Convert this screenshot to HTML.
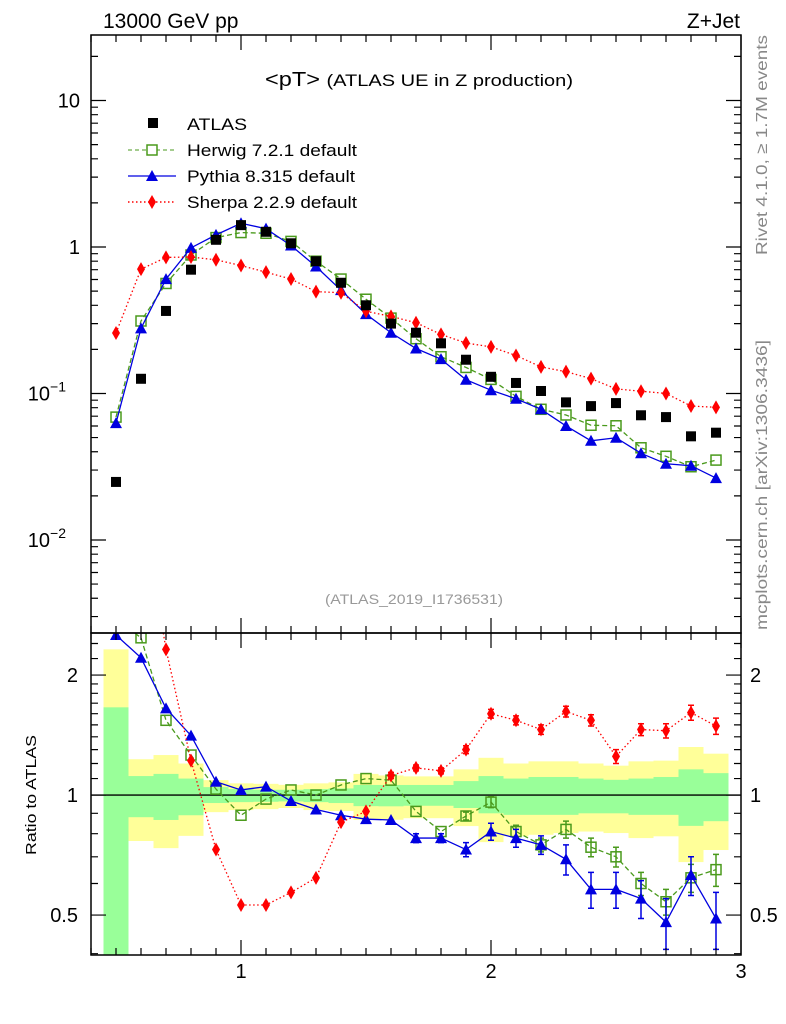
<!DOCTYPE html>
<html><head><meta charset="utf-8"><style>
body{margin:0;background:#fff}
svg{display:block;font-family:"Liberation Sans",Arial,sans-serif}
</style></head><body>
<svg id="plot" width="786" height="1024" viewBox="0 0 786 1024" xmlns="http://www.w3.org/2000/svg">
<text x="103" y="28" font-size="21">13000 GeV pp</text>
<text x="740" y="28" font-size="21" text-anchor="end">Z+Jet</text>
<text x="265" y="86" font-size="20" textLength="308" lengthAdjust="spacingAndGlyphs">&lt;pT&gt; <tspan font-size="17">(ATLAS UE in Z production)</tspan></text>
<text x="414" y="604" font-size="14" fill="#999" text-anchor="middle" textLength="178" lengthAdjust="spacingAndGlyphs">(ATLAS_2019_I1736531)</text>
<text transform="translate(767,255) rotate(-90)" font-size="16" fill="#888" textLength="220" lengthAdjust="spacingAndGlyphs">Rivet 4.1.0, ≥ 1.7M events</text>
<text transform="translate(767,630) rotate(-90)" font-size="16" fill="#888" textLength="290" lengthAdjust="spacingAndGlyphs">mcplots.cern.ch [arXiv:1306.3436]</text>
<text transform="translate(36,795) rotate(-90)" font-size="15" text-anchor="middle" textLength="120" lengthAdjust="spacingAndGlyphs">Ratio to ATLAS</text>
<g id="bands"></g><g id="marks"></g><g id="axes"></g>
<g id="legend">
<rect x="148" y="118" width="10" height="10" fill="#000"/>
<text x="187" y="130" font-size="17" textLength="60" lengthAdjust="spacingAndGlyphs">ATLAS</text>
<line x1="128" y1="150" x2="176" y2="150" stroke="#4a9a1c" stroke-dasharray="4,3"/>
<rect x="147" y="145" width="10" height="10" fill="#fff" stroke="#4a9a1c" stroke-width="1.5"/>
<text x="187" y="156" font-size="17" textLength="170" lengthAdjust="spacingAndGlyphs">Herwig 7.2.1 default</text>
<line x1="128" y1="176" x2="176" y2="176" stroke="#0000e0" stroke-width="1.3"/>
<path d="M152,170 L158,181 L146,181 Z" fill="#0000e0"/>
<text x="187" y="182" font-size="17" textLength="168" lengthAdjust="spacingAndGlyphs">Pythia 8.315 default</text>
<line x1="128" y1="202" x2="176" y2="202" stroke="#f00" stroke-dasharray="1.5,2.5" stroke-width="1.5"/>
<path d="M152,195 L156,202 L152,209 L148,202 Z" fill="#f00"/>
<text x="187" y="208" font-size="17" textLength="170" lengthAdjust="spacingAndGlyphs">Sherpa 2.2.9 default</text>
</g>
</svg>
<script>
const xs=[0.5,0.6,0.7,0.8,0.9,1.0,1.1,1.2,1.3,1.4,1.5,1.6,1.7,1.8,1.9,2.0,2.1,2.2,2.3,2.4,2.5,2.6,2.7,2.8,2.9];
const atlas=[0.0249,0.126,0.366,0.70,1.12,1.41,1.27,1.06,0.80,0.57,0.40,0.30,0.26,0.22,0.17,0.13,0.118,0.104,0.087,0.082,0.086,0.071,0.069,0.051,0.054];
const herwigRatio=[2.77,2.48,1.54,1.26,1.035,0.89,0.977,1.03,1.0,1.06,1.10,1.09,0.91,0.81,0.886,0.96,0.81,0.75,0.82,0.74,0.70,0.60,0.54,0.62,0.65];
const pythiaRatio=[2.52,2.21,1.65,1.41,1.08,1.03,1.05,0.966,0.92,0.89,0.87,0.866,0.78,0.78,0.73,0.81,0.78,0.75,0.69,0.58,0.58,0.55,0.48,0.63,0.49];
const sherpaRatio=[10.4,5.6,2.32,1.22,0.73,0.53,0.53,0.57,0.62,0.855,0.91,1.12,1.17,1.15,1.30,1.60,1.54,1.46,1.62,1.54,1.25,1.46,1.45,1.61,1.49];
const herwigErr=[0.01,0.01,0.01,0.01,0.01,0.01,0.01,0.01,0.01,0.01,0.01,0.01,0.01,0.01,0.02,0.03,0.03,0.03,0.04,0.04,0.04,0.04,0.04,0.05,0.06];
const pythiaErr=[0.01,0.01,0.01,0.01,0.01,0.01,0.01,0.01,0.01,0.01,0.01,0.01,0.02,0.02,0.03,0.04,0.04,0.04,0.06,0.06,0.06,0.06,0.07,0.07,0.08];
const sherpaErr=[0.01,0.01,0.01,0.01,0.01,0.01,0.01,0.01,0.01,0.01,0.01,0.02,0.02,0.02,0.03,0.04,0.04,0.04,0.05,0.05,0.05,0.05,0.06,0.07,0.07];
const yelUp=[2.32,1.23,1.26,1.20,1.09,1.07,1.067,1.061,1.07,1.076,1.13,1.12,1.114,1.114,1.16,1.24,1.20,1.215,1.215,1.20,1.185,1.215,1.22,1.32,1.27];
const grnUp=[1.66,1.116,1.13,1.10,1.047,1.035,1.031,1.031,1.035,1.039,1.06,1.06,1.06,1.06,1.084,1.116,1.10,1.11,1.11,1.10,1.092,1.10,1.11,1.16,1.135];
const grnDn=[0.39,0.88,0.866,0.89,0.955,0.96,0.962,0.964,0.96,0.955,0.938,0.937,0.94,0.94,0.928,0.90,0.892,0.892,0.892,0.90,0.90,0.892,0.892,0.837,0.86];
const yelDn=[0.39,0.767,0.736,0.79,0.906,0.917,0.922,0.928,0.917,0.912,0.866,0.867,0.875,0.875,0.836,0.762,0.788,0.795,0.803,0.81,0.803,0.78,0.788,0.679,0.728];
const xTicks=[1,2,3];
const mainTicks=[10,1,0.1,0.01];
const ratioTicks=[0.5,1,2];

const L=91,R=741,T=35,MB=633,B=955;
const xMin=0.4,xMax=3.0;
const X=v=>L+(v-xMin)/(xMax-xMin)*(R-L);
const yTopLog=Math.log10(28),yBotLog=-2.635;
const Y=v=>T+(yTopLog-Math.log10(v))/(yTopLog-yBotLog)*(MB-T);
const rTop=Math.log10(2.55),rBot=Math.log10(0.397);
const YR=v=>MB+(rTop-Math.log10(v))/(rTop-rBot)*(B-MB);
const NS='http://www.w3.org/2000/svg';
function mk(tag,attrs,parent){const e=document.createElementNS(NS,tag);for(const k in attrs)e.setAttribute(k,attrs[k]);parent.appendChild(e);return e;}
const bands=document.getElementById('bands'),marks=document.getElementById('marks'),axes=document.getElementById('axes');

const defs=mk('defs',{},document.getElementById('plot'));
const cp=mk('clipPath',{id:'rclip'},defs);mk('rect',{x:L,y:MB,width:R-L,height:B-MB},cp);
const cm=mk('clipPath',{id:'mclip'},defs);mk('rect',{x:L,y:T,width:R-L,height:MB-T},cm);
bands.setAttribute('clip-path','url(#rclip)');
xs.forEach((x,i)=>{
  const x0=X(x-0.05),x1=X(x+0.05);
  const y1=mk('rect',{x:x0,y:YR(yelUp[i]),width:x1-x0,height:YR(yelDn[i])-YR(yelUp[i]),fill:'#ffff99'},bands);
  
  
  const g1=mk('rect',{x:x0,y:YR(grnUp[i]),width:x1-x0,height:YR(grnDn[i])-YR(grnUp[i]),fill:'#99ff99'},bands);
  
  
});
const one=mk('line',{x1:L,x2:R,y1:YR(1),y2:YR(1),stroke:'#000','stroke-width':1.3},bands);



const series=[
 {name:'herwig',r:herwigRatio,e:herwigErr,col:'#4a9a1c',dash:'5,3',m:'sq'},
 {name:'pythia',r:pythiaRatio,e:pythiaErr,col:'#0000e0',dash:'',m:'tri'},
 {name:'sherpa',r:sherpaRatio,e:sherpaErr,col:'#f00',dash:'1.5,2.5',m:'dia'}];
function marker(type,cx,cy,col,g){
  if(type==='sq')return mk('rect',{x:cx-5,y:cy-5,width:10,height:10,fill:'none',stroke:col,'stroke-width':1.5},g);
  if(type==='tri')return mk('path',{d:`M${cx},${cy-6}L${cx+6},${cy+5}L${cx-6},${cy+5}Z`,fill:col},g);
  if(type==='dia')return mk('path',{d:`M${cx},${cy-7}L${cx+4},${cy}L${cx},${cy+7}L${cx-4},${cy}Z`,fill:col},g);
  return mk('rect',{x:cx-5,y:cy-5,width:10,height:10,fill:col},g);
}
const gm=mk('g',{'clip-path':'url(#mclip)'},marks);
const gr=mk('g',{'clip-path':'url(#rclip)'},marks);
series.forEach(s=>{
  const mainVals=s.r.map((r,i)=>r*atlas[i]);
  const pl=mk('polyline',{points:xs.map((x,i)=>X(x)+','+Y(mainVals[i])).join(' '),fill:'none',stroke:s.col,'stroke-width':1.3,'stroke-dasharray':s.dash},gm);
  
  
  const pr=mk('polyline',{points:xs.map((x,i)=>X(x)+','+YR(s.r[i])).join(' '),fill:'none',stroke:s.col,'stroke-width':1.3,'stroke-dasharray':s.dash},gr);
  
  
  xs.forEach((x,i)=>{
    const m1=marker(s.m,X(x),Y(mainVals[i]),s.col,gm);
    
    
    const cy=YR(s.r[i]);
    if(s.e[i]>0.015){
      const eb=mk('path',{d:`M${X(x)},${YR(s.r[i]+s.e[i])}V${YR(s.r[i]-s.e[i])}M${X(x)-3},${YR(s.r[i]+s.e[i])}h6M${X(x)-3},${YR(s.r[i]-s.e[i])}h6`,stroke:s.col,'stroke-width':1.5,fill:'none'},gr);
      
      
    }
    const m2=marker(s.m,X(x),cy,s.col,gr);
    
    
  });
});
xs.forEach((x,i)=>{
  const a=marker('fill',X(x),Y(atlas[i]),'#000',gm);
  
  
});

[[T,MB],[MB,B]].forEach(([t,b],k)=>{
  const f=mk('rect',{x:L,y:t,width:R-L,height:b-t,fill:'none',stroke:'#000','stroke-width':1.5},axes);
  
  
});
let d='';
for(let v=0.4;v<=3.0001;v+=0.1){
  const x=X(v),maj=Math.abs(v-Math.round(v))<1e-6,len=maj?15:7;
  d+=`M${x},${T}v${len}M${x},${MB}v${-len}M${x},${MB}v${len}M${x},${B}v${-len}`;
}
for(let e=-3;e<=1;e++)for(let m=1;m<=9;m++){
  const v=m*Math.pow(10,e);const y=Y(v);if(y<T||y>MB)continue;
  const len=m===1?15:7;d+=`M${L},${y}h${len}M${R},${y}h${-len}`;
}
[0.4,0.5,0.6,0.7,0.8,0.9,1,1.1,1.2,1.3,1.4,1.5,1.6,1.7,1.8,1.9,2,2.2,2.4].forEach(v=>{
  const y=YR(v);if(y<MB||y>B)return;const len=ratioTicks.includes(v)?15:7;
  d+=`M${L},${y}h${len}M${R},${y}h${-len}`;
});
const tk=mk('path',{d:d,stroke:'#000','stroke-width':1.2,fill:'none'},axes);


xTicks.forEach(v=>{
  const t=mk('text',{x:X(v),y:978,'font-size':20,'text-anchor':'middle'},axes);t.textContent=v;
  
  
});
mainTicks.forEach(v=>{
  const e=Math.round(Math.log10(v));
  const t=mk('text',{x:e<0?66:80,y:Y(v)+7,'font-size':20,'text-anchor':'end'},axes);
  t.textContent='10';
  if(e===0)t.textContent='1';
  if(e<0){const s=mk('tspan',{dy:-9,'font-size':14},t);s.textContent='−'+(-e);}
  
  
});
ratioTicks.forEach(v=>{
  const t=mk('text',{x:78,y:YR(v)+7,'font-size':20,'text-anchor':'end'},axes);t.textContent=v;
  
  
  const t2=mk('text',{x:750,y:YR(v)+7,'font-size':20},axes);t2.textContent=v;
  
  
});
</script>
</body></html>
